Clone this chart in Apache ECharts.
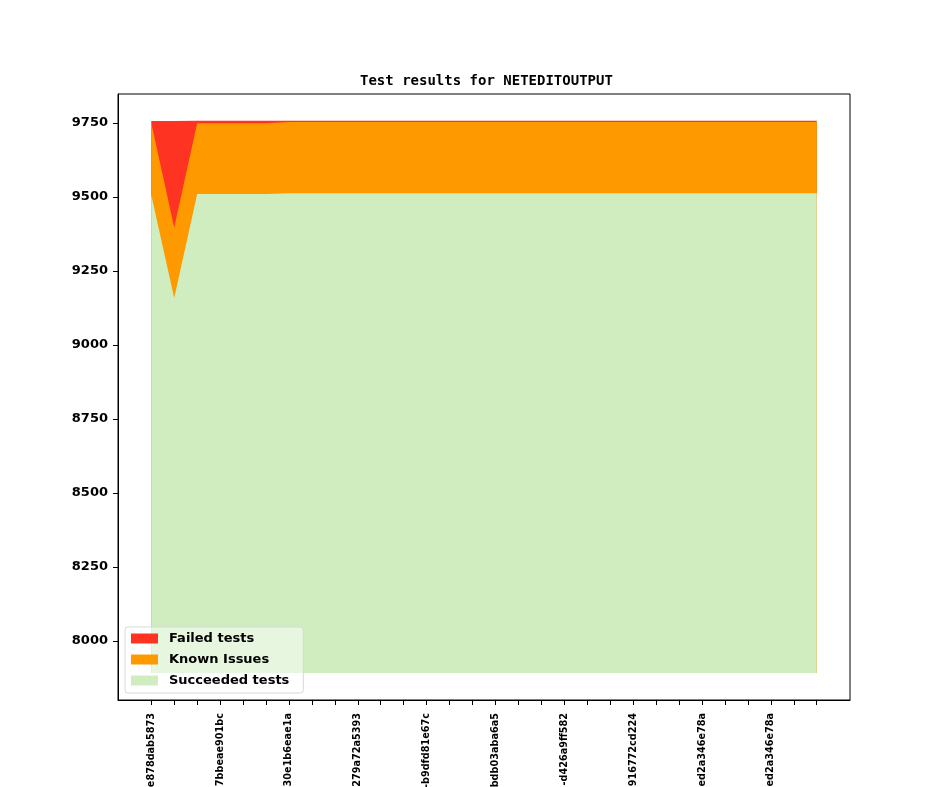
<!DOCTYPE html>
<html lang="en">
<head>
    <meta charset="UTF-8">
    <title>Test results for NETEDITOUTPUT</title>
    <script src="https://cdn.jsdelivr.net/npm/echarts@6.0.0/dist/echarts.min.js"></script>
    <style>
        html, body { margin: 0; padding: 0; background: #fff; }
        #main { width: 944px; height: 787px; }
    </style>
</head>
<body>
<div id="main"></div>
<script type="text/javascript">
    // one entry per build (30 builds)
    var failed = [7, 360, 9, 9, 9, 9, 5, 5, 5, 5, 5, 5, 5, 5, 5, 5, 5, 5, 5, 5, 5, 5, 5, 5, 5, 5, 5, 5, 5, 5];
    var known = [243, 238, 239, 239, 239, 239, 240, 240, 240, 240, 240, 240, 240, 240, 240, 240, 240, 240, 240, 240, 240, 240, 240, 240, 240, 240, 240, 240, 240, 240];
    var succeeded = [9507, 9159, 9510, 9510, 9510, 9510, 9513, 9513, 9513, 9513, 9513, 9513, 9513, 9513, 9513, 9513, 9513, 9513, 9513, 9513, 9513, 9513, 9513, 9513, 9513, 9513, 9513, 9513, 9513, 9513];
    // labels shown on every third build
    var tickLabels = ['e878dab5873', '7bbeae901bc', '30e1b6eae1a', '279a72a5393', '-b9dfd81e67c',
        'bdb03aba6a5', '-d426a9ff582', '916772cd224', 'ed2a346e78a', 'ed2a346e78a'];
    var yTicks = [8000, 8250, 8500, 8750, 9000, 9250, 9500, 9750];
    var areaBase = 7892;

    var tickIdx = [];
    for (var i = 0; i < succeeded.length; i++) tickIdx.push(i);
    var labelIdx = tickIdx.filter(function (i) { return i % 3 === 0; });

    // cumulative tops of the stack, drawn back to front
    var topSucc = succeeded.map(function (v, i) { return [i, v]; });
    var topKnown = succeeded.map(function (v, i) { return [i, v + known[i]]; });
    var topFailed = succeeded.map(function (v, i) { return [i, v + known[i] + failed[i]]; });

    function area(name, data, color) {
        return {
            name: name,
            type: 'line',
            data: data,
            z: 2,
            showSymbol: false,
            silent: true,
            color: color,
            lineStyle: { width: 0 },
            areaStyle: { color: color, opacity: 1, origin: areaBase }
        };
    }

    var myChart = echarts.init(document.getElementById('main'));
    var font = 'DejaVu Sans';
    var option = {
        animation: false,
        title: {
            text: 'Test results for NETEDITOUTPUT',
            left: 360,
            top: 74,
            padding: 0,
            textStyle: { fontFamily: 'DejaVu Sans Mono', fontWeight: 'bold', fontSize: 14, color: '#000' }
        },
        legend: {
            z: 10,
            orient: 'vertical',
            left: 125,
            top: 627,
            padding: [5, 14, 6, 6],
            itemWidth: 27,
            itemHeight: 10,
            itemGap: 8,
            icon: 'rect',
            backgroundColor: 'rgba(255,255,255,0.5)',
            borderColor: '#d8d8d8',
            borderWidth: 1,
            borderRadius: 3,
            data: ['Failed tests', 'Known Issues', 'Succeeded tests'],
            textStyle: { fontFamily: font, fontWeight: 'bold', fontSize: 13, color: '#000', padding: [0, 0, 0, 6] }
        },
        grid: {
            left: 118, right: 94, top: 94, bottom: 87,
            outerBoundsMode: 'none',
            containLabel: false,
            show: true, borderColor: '#000', borderWidth: 1, backgroundColor: '#fff'
        },
        xAxis: {
            type: 'value',
            min: -1.45,
            max: 30.45,
            splitLine: { show: false },
            axisLine: { onZero: false, lineStyle: { color: '#000' } },
            axisTick: { length: 5, lineStyle: { color: '#000' }, customValues: tickIdx },
            axisLabel: {
                rotate: 90,
                margin: 13,
                customValues: labelIdx,
                fontFamily: font, fontWeight: 'bold', fontSize: 9.7, color: '#000',
                formatter: function (v) { return tickLabels[Math.round(v) / 3]; }
            }
        },
        yAxis: {
            type: 'value',
            min: 7801,
            max: 9848,
            splitLine: { show: false },
            axisLine: { show: true, onZero: false, lineStyle: { color: '#000' } },
            axisTick: { show: true, length: 5, lineStyle: { color: '#000' }, customValues: yTicks },
            axisLabel: {
                margin: 10,
                customValues: yTicks,
                fontFamily: font, fontWeight: 'bold', fontSize: 13, color: '#000',
                formatter: function (v) { return String(v); }
            }
        },
        series: [
            area('Failed tests', topFailed, '#ff3322'),
            area('Known Issues', topKnown, '#ff9900'),
            area('Succeeded tests', topSucc, '#cfedbf')
        ]
    };
    option && myChart.setOption(option);
</script>
</body>
</html>
